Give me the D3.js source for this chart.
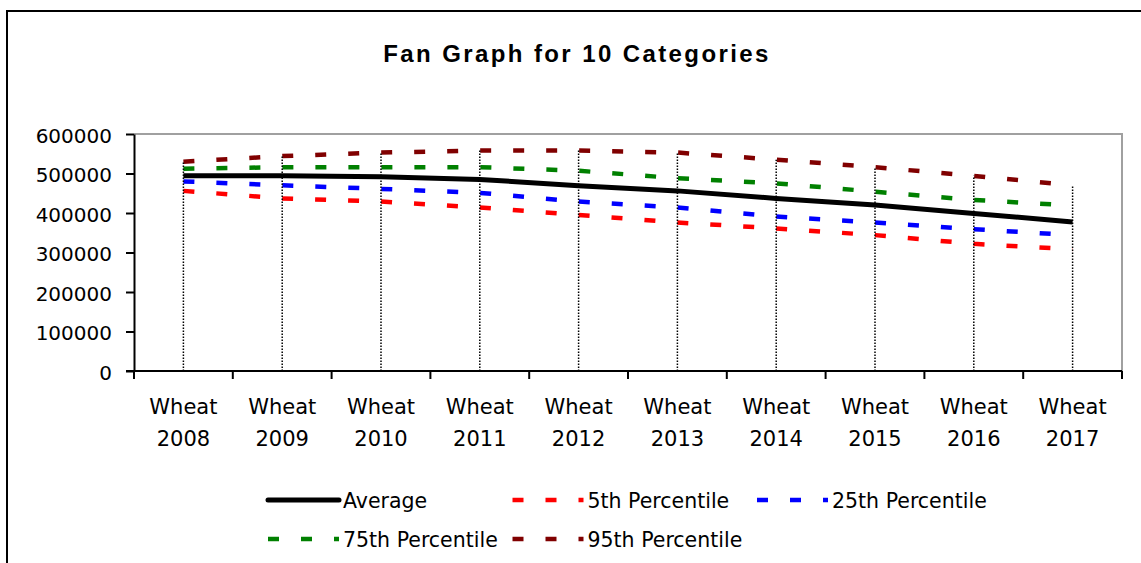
<!DOCTYPE html>
<html>
<head>
<meta charset="utf-8">
<script src="https://cdn.jsdelivr.net/npm/d3@7"></script>
<style>
  body { margin: 0; background: #fff; }
  svg { display: block; }
  text { font-family: "DejaVu Sans", sans-serif; fill: #000; }
</style>
</head>
<body>
<div id="chart"></div>
<script>
// chart data
var categories = ["Wheat 2008", "Wheat 2009", "Wheat 2010", "Wheat 2011", "Wheat 2012",
                  "Wheat 2013", "Wheat 2014", "Wheat 2015", "Wheat 2016", "Wheat 2017"];
var average = [494000, 494000, 492000, 485000, 469000, 456000, 437000, 420000, 399000, 377000];
var p5  = [456000, 437000, 429000, 414000, 395000, 376000, 361000, 344000, 322000, 308000];
var p25 = [480000, 470000, 461000, 451000, 429000, 414000, 391000, 376000, 359000, 344000];
var p75 = [512000, 516000, 516000, 516000, 507000, 488000, 475000, 454000, 433000, 419000];
var p95 = [530000, 544000, 553000, 558000, 558000, 553000, 535000, 516000, 494000, 470000];
var yTicks = [0, 100000, 200000, 300000, 400000, 500000, 600000];
var seriesNames = ["Average", "5th Percentile", "25th Percentile", "75th Percentile", "95th Percentile"];

var W = 1141, H = 563;
// plot area edges (note: "top" is reserved on window)
var plotLeft = 134, plotRight = 1122, plotTop = 134, plotBottom = 371;

var svg = d3.select("#chart").append("svg")
    .attr("width", W).attr("height", H);

// outer chart border
svg.append("rect")
    .attr("x", 7).attr("y", 11)
    .attr("width", W + 20).attr("height", H + 20)
    .attr("fill", "#fff").attr("stroke", "#000").attr("stroke-width", 2);

var x = d3.scaleBand().domain(categories).range([plotLeft, plotRight]).padding(0);
var y = d3.scaleLinear().domain([0, 600000]).range([plotBottom, plotTop]);
var cx = function(i) { return x(categories[i]) + x.bandwidth() / 2; };

// plot area border (top + right, grey)
svg.append("path")
    .attr("d", "M" + plotLeft + "," + plotTop + "H" + plotRight + "V" + plotBottom)
    .attr("fill", "none").attr("stroke", "#a0a0a0").attr("stroke-width", 2);

var series = [
  { name: seriesNames[0], values: average, color: "#000000", dash: null, width: 5 },
  { name: seriesNames[1], values: p5,  color: "#ff0000", dash: "11,22", width: 4.5 },
  { name: seriesNames[2], values: p25, color: "#0000ff", dash: "11,22", width: 4.5 },
  { name: seriesNames[3], values: p75, color: "#008000", dash: "11,22", width: 4.5 },
  { name: seriesNames[4], values: p95, color: "#800000", dash: "11,22", width: 4.5 }
];

var line = d3.line()
    .x(function(d, i) { return cx(i); })
    .y(function(d) { return y(d); });

// draw percentiles first, average on top
var order = [1, 2, 3, 4, 0];
order.forEach(function(k) {
  var s = series[k];
  svg.append("path")
      .datum(s.values)
      .attr("d", line)
      .attr("fill", "none")
      .attr("stroke", s.color)
      .attr("stroke-width", s.width)
      .attr("stroke-dasharray", s.dash)
      .attr("stroke-linejoin", "miter");
});

// drop lines from the highest value to the axis
svg.selectAll(".drop")
    .data(categories)
    .enter().append("line")
    .attr("class", "drop")
    .attr("x1", function(d, i) { return cx(i); })
    .attr("x2", function(d, i) { return cx(i); })
    .attr("y1", y(0))
    .attr("y2", function(d, i) {
      return y(d3.max(series, function(s) { return s.values[i]; }));
    })
    .attr("stroke", "#000")
    .attr("stroke-width", 1.5)
    .attr("stroke-dasharray", "1.5,1.5");

// y axis
var yAxis = svg.append("g")
    .attr("transform", "translate(" + plotLeft + ",0)")
    .call(d3.axisLeft(y).tickValues(yTicks).tickFormat(d3.format("d"))
          .tickSize(8).tickSizeOuter(0).tickPadding(14));
yAxis.select(".domain").attr("stroke", "#000").attr("stroke-width", 2);
yAxis.selectAll(".tick line").attr("stroke", "#000").attr("stroke-width", 2);
yAxis.selectAll(".tick text")
    .style("font-family", "DejaVu Sans").style("font-size", "20px")
    .attr("dy", "0.4em");
svg.append("line")
    .attr("x1", plotLeft).attr("x2", plotLeft)
    .attr("y1", plotBottom).attr("y2", plotBottom + 8)
    .attr("stroke", "#000").attr("stroke-width", 2);

// x axis
svg.append("line")
    .attr("x1", plotLeft - 8).attr("x2", plotRight)
    .attr("y1", plotBottom).attr("y2", plotBottom)
    .attr("stroke", "#000").attr("stroke-width", 2);
svg.selectAll(".xtick")
    .data(categories)
    .enter().append("line")
    .attr("class", "xtick")
    .attr("x1", function(d) { return x(d) + x.bandwidth(); })
    .attr("x2", function(d) { return x(d) + x.bandwidth(); })
    .attr("y1", plotBottom).attr("y2", plotBottom + 8)
    .attr("stroke", "#000").attr("stroke-width", 2);

var xl = svg.selectAll(".xlabel")
    .data(categories)
    .enter().append("text")
    .attr("class", "xlabel")
    .attr("text-anchor", "middle")
    .style("font-size", "21px");
xl.append("tspan")
    .attr("x", function(d, i) { return cx(i); })
    .attr("y", 414)
    .text(function(d) { return d.split(" ")[0]; });
xl.append("tspan")
    .attr("x", function(d, i) { return cx(i); })
    .attr("y", 446)
    .text(function(d) { return d.split(" ")[1]; });

// title
svg.append("text")
    .attr("x", 577).attr("y", 62)
    .attr("text-anchor", "middle")
    .style("font-family", "'Liberation Sans', Arial, sans-serif")
    .style("font-weight", "bold")
    .style("font-size", "24px")
    .style("letter-spacing", "2.4px")
    .text("Fan Graph for 10 Categories");

// legend
var legendCols = [268, 512.5, 757];
var legendRows = [500, 539];
var sampleLen = 71;
var lg = svg.selectAll(".legend")
    .data(series)
    .enter().append("g")
    .attr("class", "legend")
    .attr("transform", function(d, i) {
      return "translate(" + legendCols[i % 3] + "," + legendRows[Math.floor(i / 3)] + ")";
    });
lg.append("line")
    .attr("x1", 0).attr("x2", sampleLen)
    .attr("y1", 0).attr("y2", 0)
    .attr("stroke", function(d) { return d.color; })
    .attr("stroke-width", function(d) { return d.width; })
    .attr("stroke-dasharray", function(d) { return d.dash; })
    .attr("stroke-linecap", function(d) { return d.dash ? "butt" : "round"; });
lg.append("text")
    .attr("x", sampleLen + 4).attr("y", 8)
    .style("font-size", "20.5px")
    .text(function(d) { return d.name; });
</script>
</body>
</html>
